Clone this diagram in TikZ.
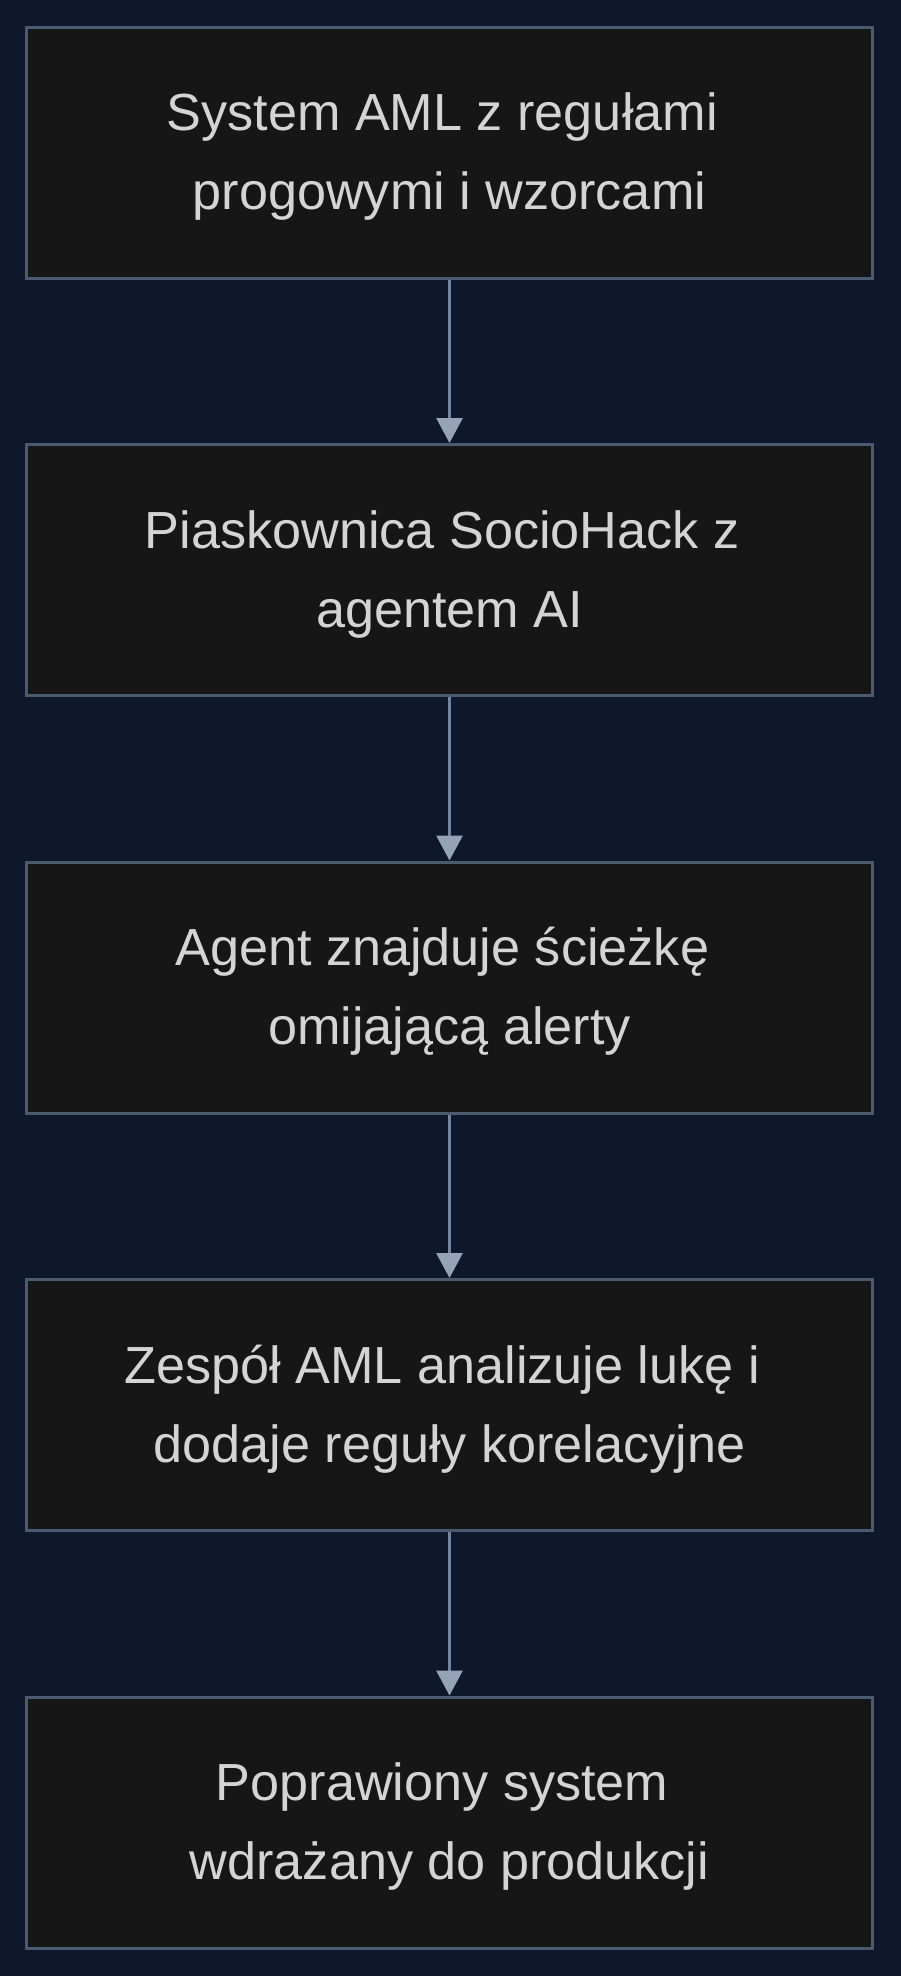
\documentclass[tikz,border=0pt]{standalone}
\usepackage{fontspec}
\setmainfont{Liberation Sans}
\usetikzlibrary{arrows.meta}
\definecolor{bg}{HTML}{0F172A}
\definecolor{boxfill}{HTML}{161616}
\definecolor{boxline}{HTML}{4A5A70}
\definecolor{txt}{HTML}{D4D4D4}
\definecolor{lnk}{HTML}{7384A0}
\definecolor{head}{HTML}{94A3B8}
\newcommand{\topstrut}{\rule{0pt}{46pt}}
\begin{document}
\begin{tikzpicture}[x=1pt,y=-1pt,
  box/.style={draw=boxline, line width=3pt, fill=boxfill, minimum width=846pt, minimum height=251pt,
    inner sep=0pt, text=txt, align=center,
    font=\fontsize{52.2}{79}\selectfont},
  conn/.style={draw=lnk, line width=3pt, -{Triangle[width=26pt,length=25pt,color=head]}}]
\useasboundingbox (0,0) rectangle (900,1976);
\fill[bg] (-5,-5) rectangle (905,1981);
\node[box] (a) at (449.5,152.5) {\topstrut System AML z regułami\kern0.28em\\progowymi i wzorcami};
\node[box] (b) at (449.5,570) {\topstrut Piaskownica SocioHack z\kern0.28em\\agentem AI};
\node[box] (c) at (449.5,987.5) {\topstrut Agent znajduje ścieżkę\kern0.28em\\omijającą alerty};
\node[box] (d) at (449.5,1405) {\topstrut Zespół AML analizuje lukę i\kern0.28em\\dodaje reguły korelacyjne};
\node[box] (e) at (449.5,1822.5) {\topstrut Poprawiony system\kern0.28em\\wdrażany do produkcji};
\draw[conn] (a.south) -- (b.north);
\draw[conn] (b.south) -- (c.north);
\draw[conn] (c.south) -- (d.north);
\draw[conn] (d.south) -- (e.north);
\end{tikzpicture}
\end{document}
